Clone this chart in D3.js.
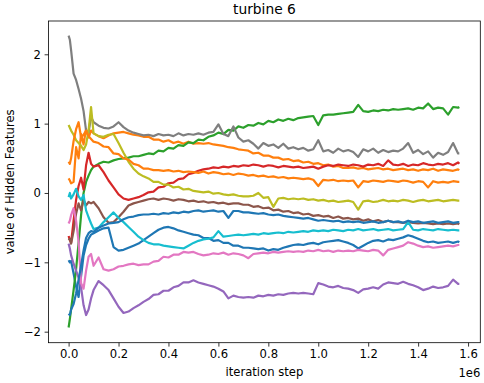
<!DOCTYPE html>
<html>
<head>
<meta charset="utf-8">
<script src="https://cdn.jsdelivr.net/npm/d3@7"></script>
<style>
  html, body { margin: 0; padding: 0; background: #fff; }
  svg { display: block; font-family: "DejaVu Sans", sans-serif; }
</style>
</head>
<body>
<svg id="chart" width="484" height="383"></svg>
<script>
// ---- data (x in units of 1e6 iteration steps) ----
const title = "turbine 6";
const xLabel = "iteration step";
const yLabel = "value of Hidden Features";
const xOffsetLabel = "1e6";
const xTicks = [0.0, 0.2, 0.4, 0.6, 0.8, 1.0, 1.2, 1.4, 1.6];
const yTicks = [-2, -1, 0, 1, 2];

const steps = [0,0.005,0.01,0.02,0.03,0.04,0.05,0.06,0.07,0.08,0.09,0.10,
  0.12,0.14,0.16,0.18,0.20,0.22,0.24,0.26,0.28,0.30,
  0.32,0.34,0.36,0.38,0.40,0.42,0.44,0.46,0.48,0.50,
  0.52,0.54,0.56,0.58,0.60,0.62,0.64,0.66,0.68,0.70,
  0.72,0.74,0.76,0.78,0.80,0.82,0.84,0.86,0.88,0.90,
  0.92,0.94,0.96,0.98,1.00,1.02,1.04,1.06,1.08,1.10,
  1.12,1.14,1.16,1.18,1.20,1.22,1.24,1.26,1.28,1.30,
  1.32,1.34,1.36,1.38,1.40,1.42,1.44,1.46,1.48,1.50,
  1.52,1.54,1.56,1.565];

const feature0 = [-0.97,-1.00,-0.98,-1.16,-1.35,-1.50,-1.20,-0.90,-0.75,-0.66,-0.60,-0.58,
  -0.54,-0.51,-0.50,-0.78,-0.83,-0.82,-0.79,-0.76,-0.73,-0.68,
  -0.63,-0.58,-0.53,-0.50,-0.49,-0.51,-0.54,-0.56,-0.58,-0.60,
  -0.61,-0.65,-0.65,-0.69,-0.68,-0.72,-0.72,-0.76,-0.76,-0.79,
  -0.79,-0.80,-0.81,-0.80,-0.83,-0.81,-0.82,-0.79,-0.77,-0.75,
  -0.74,-0.75,-0.73,-0.72,-0.74,-0.71,-0.70,-0.69,-0.68,-0.70,
  -0.72,-0.75,-0.80,-0.76,-0.72,-0.69,-0.68,-0.70,-0.67,-0.68,
  -0.66,-0.64,-0.61,-0.63,-0.66,-0.69,-0.71,-0.70,-0.72,-0.71,
  -0.70,-0.72,-0.70,-0.71];
const feature1 = [0.21,0.18,0.14,0.16,0.66,0.50,0.85,0.70,0.92,0.80,0.90,0.86,
  0.82,0.79,0.83,0.86,0.87,0.88,0.86,0.84,0.83,0.81,
  0.81,0.77,0.77,0.74,0.76,0.72,0.74,0.71,0.74,0.71,
  0.72,0.71,0.72,0.70,0.69,0.68,0.66,0.65,0.63,0.62,
  0.61,0.57,0.58,0.54,0.54,0.51,0.51,0.48,0.49,0.46,
  0.47,0.44,0.45,0.42,0.43,0.40,0.41,0.38,0.39,0.36,
  0.36,0.37,0.35,0.36,0.34,0.35,0.36,0.34,0.35,0.33,
  0.34,0.35,0.33,0.34,0.32,0.34,0.33,0.35,0.32,0.34,
  0.33,0.32,0.34,0.33];
const feature2 = [-1.94,-1.82,-1.68,-1.40,-1.10,-0.72,-0.32,0.00,0.16,0.25,0.33,0.38,
  0.42,0.45,0.44,0.47,0.49,0.50,0.51,0.53,0.53,0.55,
  0.57,0.56,0.61,0.60,0.65,0.64,0.69,0.68,0.73,0.72,
  0.77,0.76,0.81,0.83,0.87,0.85,0.91,0.90,0.96,0.94,
  0.98,0.97,1.01,0.99,1.04,1.02,1.06,1.04,1.07,1.05,
  1.08,1.09,1.10,1.11,0.98,1.12,1.13,1.13,1.14,1.15,
  1.16,1.17,1.27,1.18,1.17,1.19,1.18,1.20,1.19,1.21,
  1.20,1.21,1.22,1.20,1.23,1.22,1.29,1.21,1.23,1.22,
  1.13,1.24,1.23,1.24];
const feature3 = [-0.62,-0.68,-0.72,-0.40,-0.10,0.10,0.22,0.05,0.40,0.58,0.42,0.38,
  0.40,0.30,0.18,0.08,-0.02,-0.08,-0.10,-0.08,-0.06,-0.03,
  0.01,0.02,0.08,0.09,0.14,0.15,0.20,0.21,0.27,0.29,
  0.32,0.34,0.35,0.37,0.36,0.38,0.37,0.39,0.38,0.40,
  0.39,0.41,0.40,0.38,0.40,0.39,0.37,0.39,0.38,0.37,
  0.38,0.36,0.37,0.38,0.35,0.38,0.40,0.39,0.41,0.40,
  0.39,0.41,0.40,0.38,0.41,0.40,0.42,0.39,0.47,0.41,
  0.40,0.42,0.39,0.41,0.40,0.43,0.41,0.40,0.42,0.41,
  0.43,0.40,0.44,0.42];
const feature4 = [-0.73,-0.80,-0.90,-1.02,-1.12,-1.22,-1.36,-1.62,-1.76,-1.68,-1.52,-1.40,
  -1.27,-1.33,-1.40,-1.52,-1.64,-1.73,-1.71,-1.66,-1.62,-1.57,
  -1.53,-1.47,-1.46,-1.41,-1.41,-1.36,-1.34,-1.29,-1.29,-1.26,
  -1.29,-1.31,-1.33,-1.35,-1.38,-1.42,-1.52,-1.48,-1.50,-1.51,
  -1.50,-1.51,-1.48,-1.49,-1.47,-1.48,-1.46,-1.47,-1.45,-1.44,
  -1.45,-1.44,-1.45,-1.46,-1.30,-1.32,-1.35,-1.36,-1.34,-1.37,
  -1.38,-1.40,-1.44,-1.39,-1.38,-1.36,-1.38,-1.32,-1.29,-1.30,
  -1.31,-1.28,-1.31,-1.33,-1.36,-1.40,-1.38,-1.35,-1.37,-1.36,
  -1.34,-1.25,-1.31,-1.31];
const feature5 = [-0.68,-0.66,-0.73,-0.55,-0.30,-0.15,-0.25,-0.10,-0.18,-0.13,-0.15,-0.13,
  -0.22,-0.35,-0.43,-0.42,-0.35,-0.27,-0.18,-0.15,-0.13,-0.11,
  -0.09,-0.08,-0.10,-0.08,-0.09,-0.11,-0.09,-0.10,-0.12,-0.11,
  -0.13,-0.12,-0.14,-0.13,-0.15,-0.14,-0.16,-0.15,-0.15,-0.17,
  -0.17,-0.20,-0.19,-0.22,-0.21,-0.25,-0.24,-0.27,-0.26,-0.29,
  -0.28,-0.31,-0.30,-0.33,-0.32,-0.34,-0.33,-0.36,-0.34,-0.37,
  -0.36,-0.38,-0.37,-0.40,-0.38,-0.41,-0.39,-0.42,-0.40,-0.42,
  -0.42,-0.43,-0.42,-0.43,-0.44,-0.43,-0.44,-0.45,-0.44,-0.45,
  -0.44,-0.45,-0.44,-0.45];
const feature6 = [-0.44,-0.40,-0.32,-0.22,-0.40,-0.70,-1.30,-1.38,-1.12,-0.92,-0.88,-1.05,
  -0.93,-1.10,-1.12,-1.10,-1.06,-1.05,-1.03,-1.02,-1.04,-1.03,
  -1.03,-0.99,-0.98,-0.92,-0.93,-0.89,-0.89,-0.85,-0.86,-0.85,
  -0.88,-0.90,-0.89,-0.87,-0.88,-0.86,-0.89,-0.87,-0.88,-0.90,
  -0.94,-0.88,-0.87,-0.86,-0.87,-0.85,-0.86,-0.85,-0.84,-0.85,
  -0.84,-0.85,-0.83,-0.84,-0.82,-0.84,-0.83,-0.85,-0.83,-0.84,
  -0.83,-0.84,-0.82,-0.83,-0.84,-0.82,-0.83,-0.90,-0.82,-0.80,
  -0.78,-0.76,-0.71,-0.73,-0.76,-0.78,-0.77,-0.79,-0.78,-0.77,
  -0.76,-0.77,-0.75,-0.75];
const feature7 = [2.27,2.21,2.06,1.72,1.63,1.50,1.36,1.18,0.90,0.87,1.10,1.02,
  0.97,0.94,0.93,0.96,1.02,0.95,0.90,0.87,0.85,0.83,
  0.84,0.82,0.85,0.83,0.84,0.82,0.86,0.83,0.85,0.84,
  0.86,0.84,0.87,0.88,0.99,0.85,0.82,0.96,0.80,0.74,
  0.76,0.71,0.64,0.72,0.68,0.70,0.65,0.71,0.64,0.66,
  0.63,0.65,0.61,0.63,0.76,0.60,0.62,0.58,0.64,0.60,
  0.62,0.59,0.52,0.63,0.60,0.64,0.58,0.62,0.59,0.61,
  0.60,0.64,0.72,0.58,0.62,0.56,0.60,0.51,0.58,0.55,
  0.59,0.72,0.57,0.57];
const feature8 = [0.98,0.94,0.90,0.84,0.76,0.72,0.68,0.62,0.70,0.90,1.24,0.86,
  0.82,0.81,0.84,0.85,0.72,0.58,0.45,0.35,0.28,0.24,
  0.21,0.16,0.16,0.12,0.12,0.08,0.09,0.05,0.06,0.03,
  0.02,0.01,0.02,-0.01,0.00,-0.02,-0.03,-0.02,-0.04,-0.05,
  -0.05,-0.04,0.00,-0.07,-0.06,-0.20,-0.08,-0.07,-0.09,-0.08,
  -0.09,-0.08,-0.10,-0.09,-0.11,-0.10,-0.12,-0.11,-0.13,-0.12,
  -0.11,-0.13,-0.24,-0.12,-0.11,-0.13,-0.12,-0.10,-0.12,-0.11,
  -0.12,-0.10,-0.11,-0.13,-0.11,-0.10,-0.12,-0.11,-0.10,-0.12,
  -0.11,-0.10,-0.11,-0.11];
const feature9 = [-0.06,0.00,-0.08,-0.02,0.06,-0.05,-0.10,-0.03,-0.25,-0.35,-0.44,-0.52,
  -0.50,-0.42,-0.35,-0.28,-0.36,-0.42,-0.49,-0.56,-0.63,-0.68,
  -0.72,-0.74,-0.74,-0.76,-0.77,-0.78,-0.79,-0.80,-0.76,-0.72,
  -0.69,-0.67,-0.66,-0.64,-0.55,-0.63,-0.62,-0.61,-0.60,-0.61,
  -0.60,-0.59,-0.60,-0.58,-0.59,-0.58,-0.57,-0.58,-0.56,-0.57,
  -0.56,-0.55,-0.56,-0.54,-0.55,-0.54,-0.55,-0.53,-0.54,-0.55,
  -0.53,-0.54,-0.52,-0.54,-0.53,-0.52,-0.54,-0.53,-0.52,-0.54,
  -0.53,-0.52,-0.42,-0.53,-0.54,-0.52,-0.53,-0.54,-0.52,-0.53,
  -0.54,-0.53,-0.54,-0.54];
const feature10 = [-1.74,-1.76,-1.68,-1.60,-1.45,-1.25,-1.05,-0.83,-0.65,-0.58,-0.55,-0.56,
  -0.50,-0.47,-0.44,-0.43,-0.42,-0.38,-0.35,-0.34,-0.32,-0.31,
  -0.31,-0.30,-0.31,-0.29,-0.30,-0.28,-0.29,-0.27,-0.28,-0.26,
  -0.25,-0.27,-0.26,-0.25,-0.27,-0.26,-0.36,-0.26,-0.26,-0.28,
  -0.28,-0.29,-0.30,-0.29,-0.31,-0.32,-0.31,-0.33,-0.34,-0.35,
  -0.36,-0.37,-0.36,-0.38,-0.40,-0.39,-0.40,-0.41,-0.40,-0.42,
  -0.41,-0.42,-0.41,-0.43,-0.42,-0.41,-0.43,-0.42,-0.40,-0.42,
  -0.41,-0.43,-0.40,-0.42,-0.41,-0.43,-0.42,-0.41,-0.43,-0.42,
  -0.41,-0.43,-0.42,-0.42];
const feature11 = [0.45,0.42,0.50,0.75,0.92,1.02,0.80,0.84,0.90,0.82,0.78,0.74,
  0.72,0.67,0.66,0.57,0.56,0.50,0.48,0.42,0.40,0.35,
  0.35,0.33,0.33,0.32,0.33,0.31,0.32,0.30,0.31,0.30,
  0.29,0.31,0.28,0.30,0.29,0.27,0.28,0.26,0.28,0.27,
  0.25,0.26,0.24,0.25,0.23,0.24,0.22,0.23,0.21,0.22,
  0.21,0.20,0.21,0.19,0.10,0.19,0.18,0.19,0.17,0.18,
  0.17,0.18,0.08,0.17,0.16,0.18,0.17,0.16,0.18,0.17,
  0.16,0.18,0.17,0.15,0.17,0.16,0.08,0.17,0.15,0.16,
  0.15,0.17,0.16,0.16];

const seriesList = [feature0, feature1, feature2, feature3, feature4, feature5,
  feature6, feature7, feature8, feature9, feature10, feature11];
const palette = ["#1f77b4","#ff7f0e","#2ca02c","#d62728","#9467bd",
  "#8c564b","#e377c2","#7f7f7f","#bcbd22","#17becf"];

// ---- layout ----
const plot = { left: 48.5, right: 480.3, top: 21, bottom: 342.7 };
const fontSize = 11.6;

const x = d3.scaleLinear().domain([-0.0805, 1.649]).range([plot.left, plot.right]);
const y = d3.scaleLinear().domain([-2.159, 2.48]).range([plot.bottom, plot.top]);

const svg = d3.select("#chart");

const line = d3.line().x((d, i) => x(steps[i])).y(d => y(d));

svg.append("g")
  .selectAll("path")
  .data(seriesList)
  .join("path")
  .attr("d", d => line(d))
  .attr("fill", "none")
  .attr("stroke", (d, i) => palette[i % palette.length])
  .attr("stroke-width", 2.2)
  .attr("stroke-linejoin", "round");

// axes
const xAxis = d3.axisBottom(x).tickValues(xTicks).tickFormat(d3.format(".1f"))
  .tickSize(3.9).tickPadding(3.4);
const yAxis = d3.axisLeft(y).tickValues(yTicks).tickFormat(d3.format("d"))
  .tickSize(3.9).tickPadding(3.6);

const gx = svg.append("g").attr("transform", `translate(0,${plot.bottom})`).call(xAxis);
const gy = svg.append("g").attr("transform", `translate(${plot.left},0)`).call(yAxis);
[gx, gy].forEach(g => {
  g.select(".domain").remove();
  g.selectAll("line").attr("stroke", "#000").attr("stroke-width", 0.8);
  g.selectAll("text").attr("fill", "#000")
    .style("font-family", "DejaVu Sans").style("font-size", fontSize + "px");
});

// frame
svg.append("rect")
  .attr("x", plot.left).attr("y", plot.top)
  .attr("width", plot.right - plot.left).attr("height", plot.bottom - plot.top)
  .attr("fill", "none").attr("stroke", "#000").attr("stroke-width", 0.8);

// title and labels
const cx = (plot.left + plot.right) / 2;
svg.append("text").attr("x", cx).attr("y", 13.6)
  .attr("text-anchor", "middle").style("font-size", "13.8px").text(title);

svg.append("text").attr("x", cx).attr("y", 376.3)
  .attr("text-anchor", "middle").style("font-size", fontSize + "px").text(xLabel);

svg.append("text").attr("x", plot.right).attr("y", 376.5)
  .attr("text-anchor", "end").style("font-size", fontSize + "px").text(xOffsetLabel);

svg.append("text")
  .attr("transform", `translate(14,${(plot.top + plot.bottom) / 2}) rotate(-90)`)
  .attr("text-anchor", "middle").style("font-size", fontSize + "px").text(yLabel);
</script>
</body>
</html>
